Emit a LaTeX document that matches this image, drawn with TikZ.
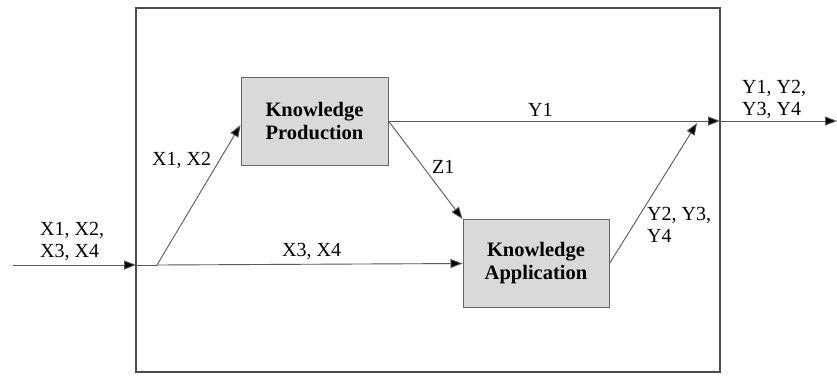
\documentclass[tikz,border=0pt]{standalone}
\usepackage{fontspec}
\setmainfont{Liberation Serif}
\usetikzlibrary{arrows.meta}
\definecolor{boxfill}{HTML}{D9D9D9}
\definecolor{linec}{HTML}{5A5A5A}
\tikzset{
  conn/.style={draw=linec, line width=0.9pt},
  arr/.style={conn, -{Triangle[length=12pt,width=9pt,fill=black]}},
  kbox/.style={draw=gray!80!black, fill=boxfill, line width=1pt, minimum width=147pt, minimum height=88pt,
     font=\fontsize{20.5}{23}\selectfont\bfseries, align=center},
  lbl/.style={font=\fontsize{20}{22.5}\selectfont, inner sep=0pt, align=left, anchor=north west}
}
\begin{document}
\begin{tikzpicture}[x=1pt,y=-1pt]
\useasboundingbox (0,0) rectangle (837,375);
\fill[white] (0,0) rectangle (837,375);
\draw[draw=black!70, line width=1.2pt] (136,8) rectangle (720,372);
\node[kbox] (kp) at (314.5,121) {Knowledge\\Production};
\node[kbox, minimum width=146pt] (ka) at (536,263.5) {Knowledge\\Application};
\coordinate (in) at (13,265);
\coordinate (inhit) at (136,265);
\coordinate (br) at (157,265);
\coordinate (yhit) at (720,121);
\coordinate (ymerge) at (697,123);
\coordinate (out) at (837,121);
\draw[arr] (in) -- (inhit);
\draw[conn] (inhit) -- (br);
\draw[arr] (br) -- (kp.west |- 0,125);
\draw[arr] (br) -- (ka.west);
\draw[arr] (kp.east) -- (yhit);
\draw[arr] (kp.east) -- (ka.north west);
\draw[arr] (ka.east) -- (ymerge);
\draw[arr] (yhit) -- (out);
\node[lbl] (l1) at (40,222) {X1, X2,\\X3, X4};
\node[lbl] (l2) at (152,152) {X1, X2};
\node[lbl] (l3) at (282,243) {X3, X4};
\node[lbl] (l4) at (528,103) {Y1};
\node[lbl] (l5) at (432,160) {Z1};
\node[lbl] (l6) at (647,207) {Y2, Y3,\\Y4};
\node[lbl] (l7) at (742,80) {Y1, Y2,\\Y3, Y4};
\end{tikzpicture}
\end{document}
